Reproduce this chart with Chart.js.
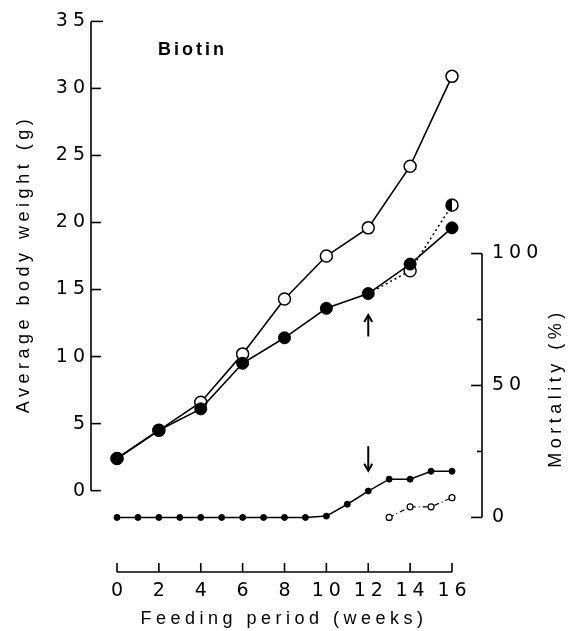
<!DOCTYPE html>
<html><head><meta charset="utf-8">
<script src="https://cdn.jsdelivr.net/npm/chart.js@4"></script>
<style>html,body{margin:0;padding:0;background:#fff}#wrap{width:569px;height:631px}</style>
</head><body><div id="wrap"><canvas id="c" width="569" height="631"></canvas></div>
<script>
// ---- data ----
const weeksMain = [0, 2, 4, 6, 8, 10, 12, 14, 16];
const weightControl = [2.4, 4.5, 6.6, 10.2, 14.3, 17.5, 19.6, 24.2, 30.9];
const weightBiotin = [2.4, 4.5, 6.1, 9.5, 11.4, 13.6, 14.7, 16.9, 19.6];
const weeksAfter = [12, 14, 16];
const weightAfter = [14.7, 16.4, 21.3];
const weeksMort = [0, 1, 2, 3, 4, 5, 6, 7, 8, 9, 10, 11, 12, 13, 14, 15, 16];
const mortality = [0, 0, 0, 0, 0, 0, 0, 0, 0, 0, 0.5, 5, 10, 14.5, 14.5, 17.5, 17.5];
const weeksMortAfter = [13, 14, 15, 16];
const mortalityAfter = [0, 4, 4, 7.5];
const weightTicks = [0, 5, 10, 15, 20, 25, 30, 35];
const mortTicks = [0, 50, 100];
const mortMinorTicks = [25, 75];
const weekTicks = [0, 2, 4, 6, 8, 10, 12, 14, 16];
const arrowUp = { week: 12, from: 11.5, to: 13.1 };
const arrowDown = { week: 12, from: 27, to: 17.7 };

const pts = (xs, ys) => xs.map((x, i) => ({ x, y: ys[i] }));
const FONT = '"Liberation Sans", Arial, sans-serif';
const TICKFONT = '"DejaVu Sans", sans-serif';

// half-filled marker
function halfCircle(r) {
  const c = document.createElement('canvas');
  const s = 2 * r + 4; c.width = s; c.height = s;
  const g = c.getContext('2d');
  g.lineWidth = 1.5; g.strokeStyle = '#000';
  g.beginPath(); g.arc(s / 2, s / 2, r, 0, Math.PI * 2); g.fillStyle = '#fff'; g.fill();
  g.beginPath(); g.arc(s / 2, s / 2, r, Math.PI / 2, Math.PI * 1.5); g.closePath(); g.fillStyle = '#000'; g.fill();
  g.beginPath(); g.arc(s / 2, s / 2, r, 0, Math.PI * 2); g.stroke();
  return c;
}

const axesPlugin = {
  id: 'axesPlugin',
  beforeDraw(chart) { chart.ctx.letterSpacing = '5px'; },
  beforeDatasetsDraw(chart) {
    const { ctx, chartArea: a, scales: { x, y, y2 } } = chart;
    ctx.save();
    ctx.strokeStyle = '#000'; ctx.lineWidth = 1.6; ctx.lineCap = 'butt';
    const line = (x1, y1, x2, y2_) => { ctx.beginPath(); ctx.moveTo(x1, y1); ctx.lineTo(x2, y2_); ctx.stroke(); };
    // left axis
    const lx = a.left;
    line(lx, y.getPixelForValue(0), lx, y.getPixelForValue(35));
    weightTicks.forEach(v => { const p = y.getPixelForValue(v); line(lx, p, lx + (v === 35 ? 12 : 10), p); });
    // right axis
    const rx = a.right;
    line(rx, y2.getPixelForValue(0), rx, y2.getPixelForValue(100));
    mortTicks.forEach(v => { const p = y2.getPixelForValue(v); line(rx, p, rx - 11, p); });
    mortMinorTicks.forEach(v => { const p = y2.getPixelForValue(v); line(rx, p, rx - 5, p); });
    // bottom axis
    const by = a.bottom;
    line(x.getPixelForValue(0), by, x.getPixelForValue(16), by);
    weekTicks.forEach(v => { const p = x.getPixelForValue(v); line(p, by, p, by - 9); });
    // arrows
    const arrow = (px, yA, yB) => {
      line(px, yA, px, yB);
      const d = yB < yA ? 1 : -1;
      ctx.beginPath(); ctx.moveTo(px - 4, yB + d * 7); ctx.lineTo(px, yB); ctx.lineTo(px + 4, yB + d * 7); ctx.stroke();
    };
    ctx.lineWidth = 2;
    arrow(x.getPixelForValue(arrowUp.week), y.getPixelForValue(arrowUp.from), y.getPixelForValue(arrowUp.to));
    arrow(x.getPixelForValue(arrowDown.week), y2.getPixelForValue(arrowDown.from), y2.getPixelForValue(arrowDown.to));
    ctx.restore();
  },
  afterDraw(chart) {
    const { ctx } = chart;
    ctx.save();
    ctx.fillStyle = '#000';
    ctx.letterSpacing = '4.5px';
    ctx.font = '18px ' + FONT;
    ctx.textAlign = 'center'; ctx.textBaseline = 'middle';
    ctx.fillText('Feeding period (weeks)', 284, 619);
    ctx.save(); ctx.translate(24, 264); ctx.rotate(-Math.PI / 2);
    ctx.fillText('Average body weight (g)', 0, 0); ctx.restore();
    ctx.save(); ctx.translate(556, 388); ctx.rotate(-Math.PI / 2);
    ctx.fillText('Mortality (%)', 0, 0); ctx.restore();
    ctx.font = 'bold 18px ' + FONT; ctx.letterSpacing = '3px';
    ctx.textAlign = 'left';
    ctx.fillText('Biotin', 158, 50);
    ctx.restore();
  }
};

const tickFont = { family: TICKFONT, size: 19 };
new Chart(document.getElementById('c'), {
  type: 'line',
  data: {
    datasets: [
      { data: pts(weeksMain, weightBiotin), yAxisID: 'y', borderColor: '#000', borderWidth: 1.6,
        pointRadius: 6, pointBackgroundColor: '#000', pointBorderColor: '#000', pointBorderWidth: 1 },
      { data: pts(weeksAfter, weightAfter), yAxisID: 'y', borderColor: '#000', borderWidth: 1.5, borderDash: [2, 3],
        pointRadius: [0, 6, 6], pointBackgroundColor: '#fff', pointBorderColor: '#000', pointBorderWidth: 1.5,
        pointStyle: ['circle', 'circle', halfCircle(6)] },
      { data: pts(weeksMain, weightControl), yAxisID: 'y', borderColor: '#000', borderWidth: 1.6,
        pointRadius: 6, pointBackgroundColor: '#fff', pointBorderColor: '#000', pointBorderWidth: 1.5 },
      { data: pts(weeksMort, mortality), yAxisID: 'y2', borderColor: '#000', borderWidth: 1.5,
        pointRadius: 3, pointBackgroundColor: '#000', pointBorderColor: '#000', pointBorderWidth: 1 },
      { data: pts(weeksMortAfter, mortalityAfter), yAxisID: 'y2', borderColor: '#000', borderWidth: 1.2, borderDash: [5, 3, 1, 3],
        pointRadius: 3, pointBackgroundColor: '#fff', pointBorderColor: '#000', pointBorderWidth: 1.2 }
    ]
  },
  options: {
    responsive: false, animation: false, devicePixelRatio: 1,
    layout: { padding: { top: 17, left: 0, right: 0, bottom: 0 } },
    plugins: { legend: { display: false }, tooltip: { enabled: false } },
    elements: { line: { tension: 0 } },
    scales: {
      x: { type: 'linear', position: 'bottom', min: -1.242, max: 17.433,
        grid: { display: false, drawTicks: false }, border: { display: false },
        ticks: { color: '#000', font: tickFont, padding: 8, maxRotation: 0, labelOffset: 2.5 },
        afterBuildTicks: s => { s.ticks = weekTicks.map(v => ({ value: v })); },
        afterFit: s => { s.height = 59; } },
      y: { position: 'left', min: -6.068, max: 35,
        grid: { display: false, drawTicks: false }, border: { display: false },
        ticks: { color: '#000', font: tickFont, padding: 1 },
        afterBuildTicks: s => { s.ticks = weightTicks.map(v => ({ value: v })); },
        afterFit: s => { s.width = 91; } },
      y2: { position: 'right', min: -20.68, max: 187.97,
        grid: { display: false, drawTicks: false }, border: { display: false },
        ticks: { color: '#000', font: tickFont, padding: 10 },
        afterBuildTicks: s => { s.ticks = mortTicks.map(v => ({ value: v })); },
        afterFit: s => { s.width = 87; } }
    }
  },
  plugins: [axesPlugin]
});
</script></body></html>
